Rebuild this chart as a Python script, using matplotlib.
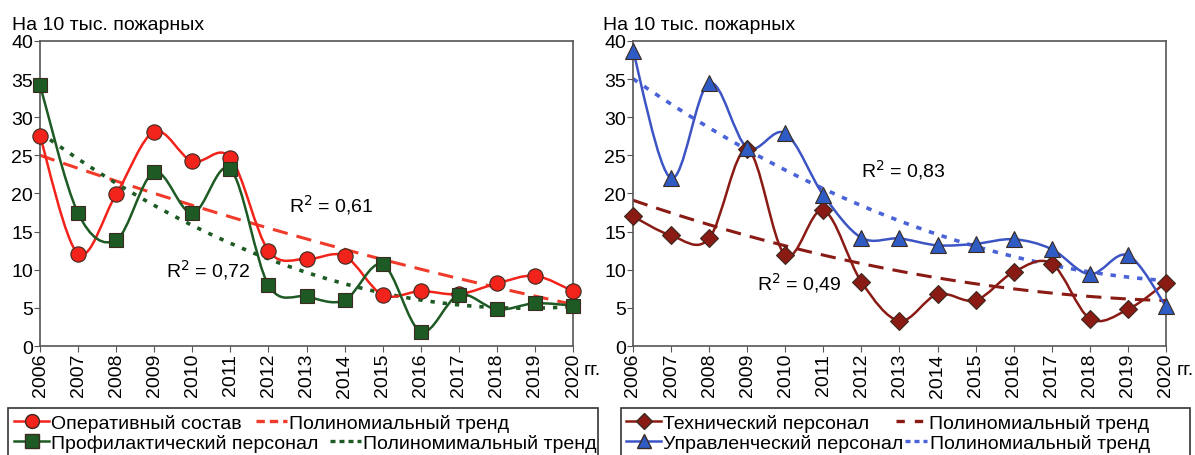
import numpy as np
import matplotlib
matplotlib.use("Agg")
import matplotlib.pyplot as plt
import matplotlib.lines as mlines
from matplotlib.path import Path
from matplotlib.patches import PathPatch, Rectangle

plt.rcParams['font.family'] = ['Liberation Sans', 'DejaVu Sans']

years = np.arange(2006, 2021)
year_labels = [str(y) for y in years]

# Left panel
operativny = [27.5, 12.1, 19.9, 28.1, 24.2, 24.7, 12.5, 11.4, 11.8, 6.7, 7.2, 6.8, 8.2, 9.2, 7.2]
profilakt = [34.2, 17.4, 13.9, 22.8, 17.4, 23.2, 8.0, 6.5, 6.0, 10.7, 1.9, 6.7, 4.8, 5.6, 5.3]
# Right panel
tekhnich = [17.0, 14.5, 14.1, 25.8, 11.9, 17.8, 8.4, 3.3, 6.8, 6.0, 9.7, 10.8, 3.6, 4.8, 8.3]
upravl = [38.7, 22.0, 34.5, 26.0, 27.9, 19.8, 14.2, 14.1, 13.2, 13.4, 14.0, 12.7, 9.4, 11.9, 5.2]

r2_labels = ['0,61', '0,72', '0,83', '0,49']

W, H = 1195, 456


def smooth_path(x, y):
    # spline through the points, drawn as cubic Bezier segments
    pts = np.column_stack([np.asarray(x, float), np.asarray(y, float)])
    n = len(pts)
    verts = [pts[0]]
    codes = [Path.MOVETO]
    for i in range(n - 1):
        p0 = pts[i - 1] if i > 0 else pts[i]
        p1 = pts[i]
        p2 = pts[i + 1]
        p3 = pts[i + 2] if i + 2 < n else pts[i + 1]
        verts += [p1 + (p2 - p0) / 6.0, p2 - (p3 - p1) / 6.0, p2]
        codes += [Path.CURVE4] * 3
    return Path(verts, codes)


def draw_series(ax, y, color, marker, mfc, ms, lw=1.8):
    ax.add_patch(PathPatch(smooth_path(years, y), fc='none', ec=color, lw=lw, zorder=3))
    ax.plot(years, y, ls='none', marker=marker, ms=ms, mfc=mfc, mec='#3a2a20',
            mew=0.8, zorder=4, clip_on=False)


def draw_trend(ax, y, color, ls, lw=2.2):
    coef = np.polyfit(years - 2006, y, 2)
    xs = np.linspace(2006, 2020, 100)
    ax.plot(xs, np.polyval(coef, xs - 2006), color=color, ls=ls, lw=lw, zorder=2)


def setup_axes(ax):
    ax.set_xlim(2006, 2020)
    ax.set_ylim(0, 40)
    ax.set_yticks(range(0, 41, 5))
    ax.set_xticks(years)
    ax.set_xticklabels(year_labels, rotation=90)
    ax.tick_params(labelsize=14, direction='out', length=4, color='#555555', pad=1)
    for s in ax.spines.values():
        s.set_color('#555555')
        s.set_linewidth(1.2)
    ax.text(1.02, -0.05, 'гг.', transform=ax.transAxes, fontsize=14, va='top', ha='left')


fig = plt.figure(figsize=(11.95, 4.56), dpi=100)
ax1 = fig.add_axes([0.0335, 0.239, 0.446, 0.669])
ax2 = fig.add_axes([0.5297, 0.239, 0.446, 0.669])

red = '#f2231b'
green = '#1d5a24'
brown = '#8a1a14'
blue = '#3d55c4'
blue_trend = '#4a63d8'

# left: operational and prevention staff
draw_trend(ax1, operativny, '#f03a2a', (0, (5, 3)))
draw_trend(ax1, profilakt, green, (0, (1.2, 2.2)), lw=2.6)
draw_series(ax1, operativny, red, 'o', red, 11)
draw_series(ax1, profilakt, green, 's', green, 10.5)
setup_axes(ax1)
ax1.text(2012.55, 18.6, 'R$^2$ = ' + r2_labels[0], fontsize=14, va='center')
ax1.text(2009.3, 10.1, 'R$^2$ = ' + r2_labels[1], fontsize=14, va='center')

# right: technical and management staff
draw_trend(ax2, tekhnich, brown, (0, (5, 3)))
draw_trend(ax2, upravl, blue_trend, (0, (1.5, 2.2)), lw=2.6)
draw_series(ax2, tekhnich, brown, 'D', brown, 9)
draw_series(ax2, upravl, blue, '^', '#2f5cc4', 11.5)
setup_axes(ax2)
ax2.text(2012.0, 23.2, 'R$^2$ = ' + r2_labels[2], fontsize=14, va='center')
ax2.text(2009.25, 8.4, 'R$^2$ = ' + r2_labels[3], fontsize=14, va='center')

fig.text(12 / W, 1 - 30 / H, 'На 10 тыс. пожарных', fontsize=14, va='baseline')
fig.text(603 / W, 1 - 30 / H, 'На 10 тыс. пожарных', fontsize=14, va='baseline')

# legends: one small frameless legend per entry, inside a drawn box
h_op = mlines.Line2D([], [], color=red, marker='o', mfc=red, mec='#3a2a20', ms=10, lw=1.8,
                     label='Оперативный состав')
h_pr = mlines.Line2D([], [], color=green, marker='s', mfc=green, mec='#3a2a20', ms=9.5, lw=1.8,
                     label='Профилактический персонал')
h_opt = mlines.Line2D([], [], color='#f03a2a', ls=(0, (2.5, 1.5)), lw=2.4,
                      label='Полиномиальный тренд')
h_prt = mlines.Line2D([], [], color=green, ls=(0, (1.5, 1.2)), lw=2.4,
                      label='Полиномимальный тренд')
h_te = mlines.Line2D([], [], color=brown, marker='D', mfc=brown, mec='#3a2a20', ms=8.5, lw=1.8,
                     label='Технический персонал')
h_up = mlines.Line2D([], [], color=blue, marker='^', mfc='#2f5cc4', mec='#3a2a20', ms=10, lw=1.8,
                     label='Управленческий персонал')
h_tet = mlines.Line2D([], [], color=brown, ls=(0, (2.5, 3)), lw=2.4,
                      label='Полиномиальный тренд')
h_upt = mlines.Line2D([], [], color=blue_trend, ls=(0, (1.5, 1.2)), lw=2.4,
                      label='Полиномиальный тренд')

entries = [
    (h_op, 14, 424, 1.8), (h_opt, 256, 424, 1.6),
    (h_pr, 14, 444, 1.8), (h_prt, 330, 444, 1.6),
    (h_te, 626, 424, 1.8), (h_tet, 896, 424, 1.6),
    (h_up, 626, 444, 1.8), (h_upt, 905, 444, 1.15),
]
for h, px, py, hl in entries:
    fig.legend(handles=[h], loc='center left', bbox_to_anchor=(px / W, 1 - py / H),
               fontsize=14, frameon=False, handlelength=hl, handletextpad=0.12,
               borderpad=0, borderaxespad=0)

for x0, x1 in [(8, 598), (621, 1190)]:
    fig.add_artist(Rectangle((x0 / W, -0.05), (x1 - x0) / W, 0.05 + 1 - 409 / H,
                             transform=fig.transFigure, fill=False, ec='#333333', lw=1.2))

fig.savefig('out.png', dpi=100)
